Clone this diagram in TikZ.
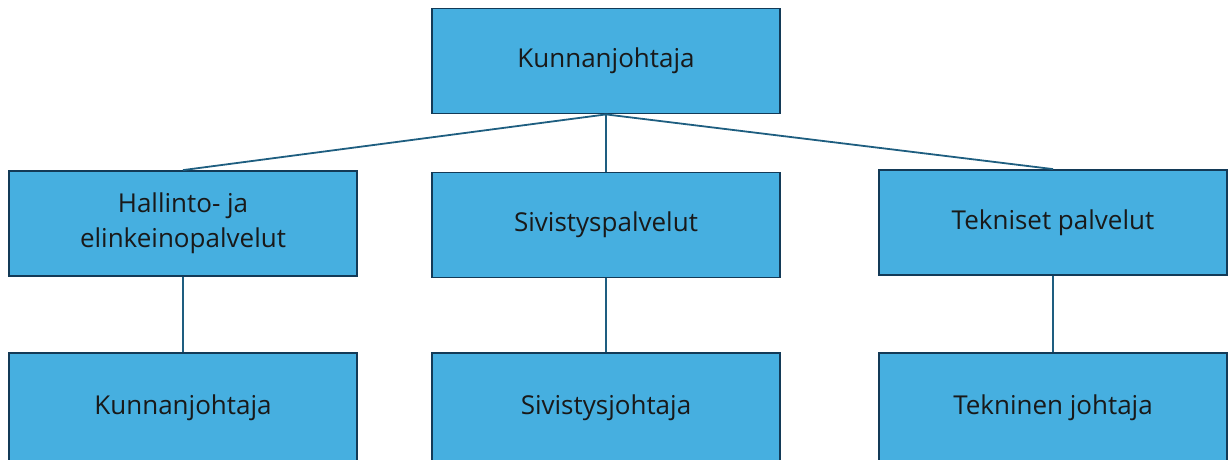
\documentclass[tikz,border=0pt]{standalone}
\usepackage{fontspec}
\setmainfont{Open Sans}
\usepackage{xcolor}
\definecolor{boxfill}{HTML}{46AFE0}
\definecolor{boxline}{HTML}{133A57}
\definecolor{linkline}{HTML}{1E5E80}

\begin{document}
\begin{tikzpicture}[x=1pt,y=-1pt,
    unit/.style={draw=boxline, fill=boxfill, line width=1.8pt,
      minimum width=348pt, minimum height=105pt, align=center,
      font=\fontsize{26}{35}\selectfont, text=black!90, inner sep=0pt},
    link/.style={draw=linkline, line width=1.8pt}]
    \useasboundingbox (0,0) rectangle (1229,459);
    % ylin taso
    \node[unit] (head) at (606,61) {Kunnanjohtaja};
    % toimialat
    \node[unit] (hallinto) at (183,223.5) {Hallinto- ja\\elinkeinopalvelut};
    \node[unit] (sivistys) at (606,225) {Sivistyspalvelut};
    \node[unit] (tekniset) at (1053,222.5) {Tekniset palvelut};
    % johtajat (leikkautuvat kuvan alareunassa)
    \node[unit, minimum height=117pt, text depth=14pt] (kjohtaja) at (183,411.5) {Kunnanjohtaja};
    \node[unit, minimum height=117pt, text depth=14pt] (sjohtaja) at (606,411.5) {Sivistysjohtaja};
    \node[unit, minimum height=117pt, text depth=14pt] (tjohtaja) at (1053,411.5) {Tekninen johtaja};

    \draw[link] (head.south) -- (hallinto.north);
    \draw[link] (head.south) -- (sivistys.north);
    \draw[link] (head.south) -- (tekniset.north);
    \draw[link] (hallinto.south) -- (kjohtaja.north);
    \draw[link] (sivistys.south) -- (sjohtaja.north);
    \draw[link] (tekniset.south) -- (tjohtaja.north);
  \end{tikzpicture}
\end{document}
